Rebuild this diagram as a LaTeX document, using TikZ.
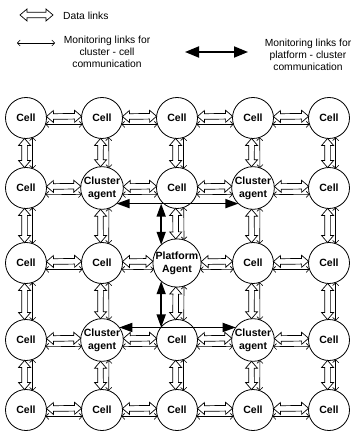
\documentclass[tikz,border=0pt]{standalone}
\usepackage{fontspec}
\setmainfont{Liberation Sans}
\usetikzlibrary{arrows.meta,calc}

\begin{document}
\begin{tikzpicture}[x=1pt,y=-1pt,
  agent/.style={circle, draw, line width=0.8pt, fill=white, minimum size=41pt,
    inner sep=0pt, outer sep=0pt, align=center,
    font=\fontsize{10.5}{12.8}\selectfont\bfseries},
  platform/.style={agent, minimum size=46pt},
  legendtext/.style={inner sep=0pt, align=center, font=\fontsize{10.3}{11.8}\selectfont},
  % hollow double-headed arrow drawn as an outlined polygon between two points
  datalink/.style={draw, line width=0.7pt, fill=white, line join=miter, to path={
    let \p1=(\tikztostart), \p2=(\tikztotarget), \n1={atan2(\y2-\y1,\x2-\x1)} in
    (\p1) -- ($(\p1)+(\n1:7pt)+({\n1+90}:6pt)$) -- ($(\p1)+(\n1:7pt)+({\n1+90}:2.8pt)$)
    -- ($(\p2)+({\n1+180}:7pt)+({\n1+90}:2.8pt)$) -- ($(\p2)+({\n1+180}:7pt)+({\n1+90}:6pt)$)
    -- (\p2) -- ($(\p2)+({\n1+180}:7pt)+({\n1-90}:6pt)$) -- ($(\p2)+({\n1+180}:7pt)+({\n1-90}:2.8pt)$)
    -- ($(\p1)+(\n1:7pt)+({\n1-90}:2.8pt)$) -- ($(\p1)+(\n1:7pt)+({\n1-90}:6pt)$) -- cycle}},
  monlink/.style={draw, line width=0.6pt,
    {Straight Barb[length=2.8pt,width=6pt]}-{Straight Barb[length=2.8pt,width=6pt]}},
  pclink/.style={draw, line width=1.5pt,
    {Triangle[length=13pt,width=9pt]}-{Triangle[length=13pt,width=9pt]}},
  pclegend/.style={draw, line width=1.8pt,
    {Triangle[length=14pt,width=11pt]}-{Triangle[length=14pt,width=11pt]}}
]
\useasboundingbox (0,0) rectangle (354,435);

% ---- legend ----
\coordinate (ld1) at (20,15);
\coordinate (ld2) at (53,15);
\draw[datalink] (ld1) to (ld2);
\node[legendtext, anchor=west] (ldt) at (63,16) {Data links};

\coordinate (lm1) at (17,43);
\coordinate (lm2) at (55,43);
\draw[monlink] (lm1) -- (lm2);
\node[legendtext] (lmt) at (107,52) {Monitoring links for\\cluster - cell\\communication};

\coordinate (lp1) at (185,52);
\coordinate (lp2) at (248,52);
\draw[pclegend] (lp1) -- (lp2);
\node[legendtext] (lpt) at (308,55) {Monitoring links for\\platform - cluster\\communication};

% ---- grid of agents ----
\node[agent] (n11) at (26,118) {Cell};
\node[agent] (n12) at (102,118) {Cell};
\node[agent] (n13) at (177,118) {Cell};
\node[agent] (n14) at (253,118) {Cell};
\node[agent] (n15) at (329,118) {Cell};

\node[agent] (n21) at (26,188) {Cell};
\node[agent] (n22) at (102,188) {Cluster\\agent};
\node[agent] (n23) at (177,188) {Cell};
\node[agent] (n24) at (253,188) {Cluster\\agent};
\node[agent] (n25) at (329,188) {Cell};

\node[agent] (n31) at (26,263) {Cell};
\node[agent] (n32) at (102,263) {Cell};
\node[platform] (n33) at (177,263) {Platform\\Agent};
\node[agent] (n34) at (253,263) {Cell};
\node[agent] (n35) at (329,263) {Cell};

\node[agent] (n41) at (26,340) {Cell};
\node[agent] (n42) at (102,340) {Cluster\\agent};
\node[agent] (n43) at (177,340) {Cell};
\node[agent] (n44) at (253,340) {Cluster\\agent};
\node[agent] (n45) at (329,340) {Cell};

\node[agent] (n51) at (26,410) {Cell};
\node[agent] (n52) at (102,410) {Cell};
\node[agent] (n53) at (177,410) {Cell};
\node[agent] (n54) at (253,410) {Cell};
\node[agent] (n55) at (329,410) {Cell};

% ---- horizontal links: data link above, monitoring link below ----
\foreach \r in {1,...,5}{
  \foreach \c [evaluate=\c as \d using int(\c+1)] in {1,...,4}{
    \pgfmathsetmacro\ra{(\r==3 && \c==3) ? 23 : 20.5}
    \pgfmathsetmacro\rb{(\r==3 && \d==3) ? 23 : 20.5}
    \pgfmathsetmacro\hA{asin(1.5/\ra)}
    \pgfmathsetmacro\hB{180-asin(1.5/\rb)}
    \pgfmathsetmacro\mA{-asin(6.5/\ra)}
    \pgfmathsetmacro\mB{180+asin(6.5/\rb)}
    \draw[datalink] (n\r\c.\hA) to (n\r\d.\hB);
    \draw[monlink] (n\r\c.\mA) -- (n\r\d.\mB);
  }
}

% ---- vertical links: data link left, monitoring link right ----
\foreach \c in {1,...,5}{
  \foreach \r [evaluate=\r as \s using int(\r+1)] in {1,...,4}{
    \pgfmathsetmacro\ra{(\r==3 && \c==3) ? 23 : 20.5}
    \pgfmathsetmacro\rb{(\s==3 && \c==3) ? 23 : 20.5}
    \pgfmathsetmacro\hA{-90-asin(1.5/\ra)}
    \pgfmathsetmacro\hB{90+asin(1.5/\rb)}
    \pgfmathsetmacro\mA{-90+asin(6.5/\ra)}
    \pgfmathsetmacro\mB{90-asin(6.5/\rb)}
    \draw[datalink] (n\r\c.\hA) to (n\s\c.\hB);
    \draw[monlink] (n\r\c.\mA) -- (n\s\c.\mB);
  }
}

% ---- platform - cluster monitoring links ----
\draw[pclink] (n22.-47) -- (n24.227);
\coordinate (jt) at (n33.131 |- n22.-47);
\draw[pclink] (jt) -- (n33.131);

\draw[pclink] (n42.36) -- (n44.144);
\coordinate (jb) at (n33.-131 |- n42.36);
\draw[pclink] (n33.-131) -- (jb);
\end{tikzpicture}
\end{document}
